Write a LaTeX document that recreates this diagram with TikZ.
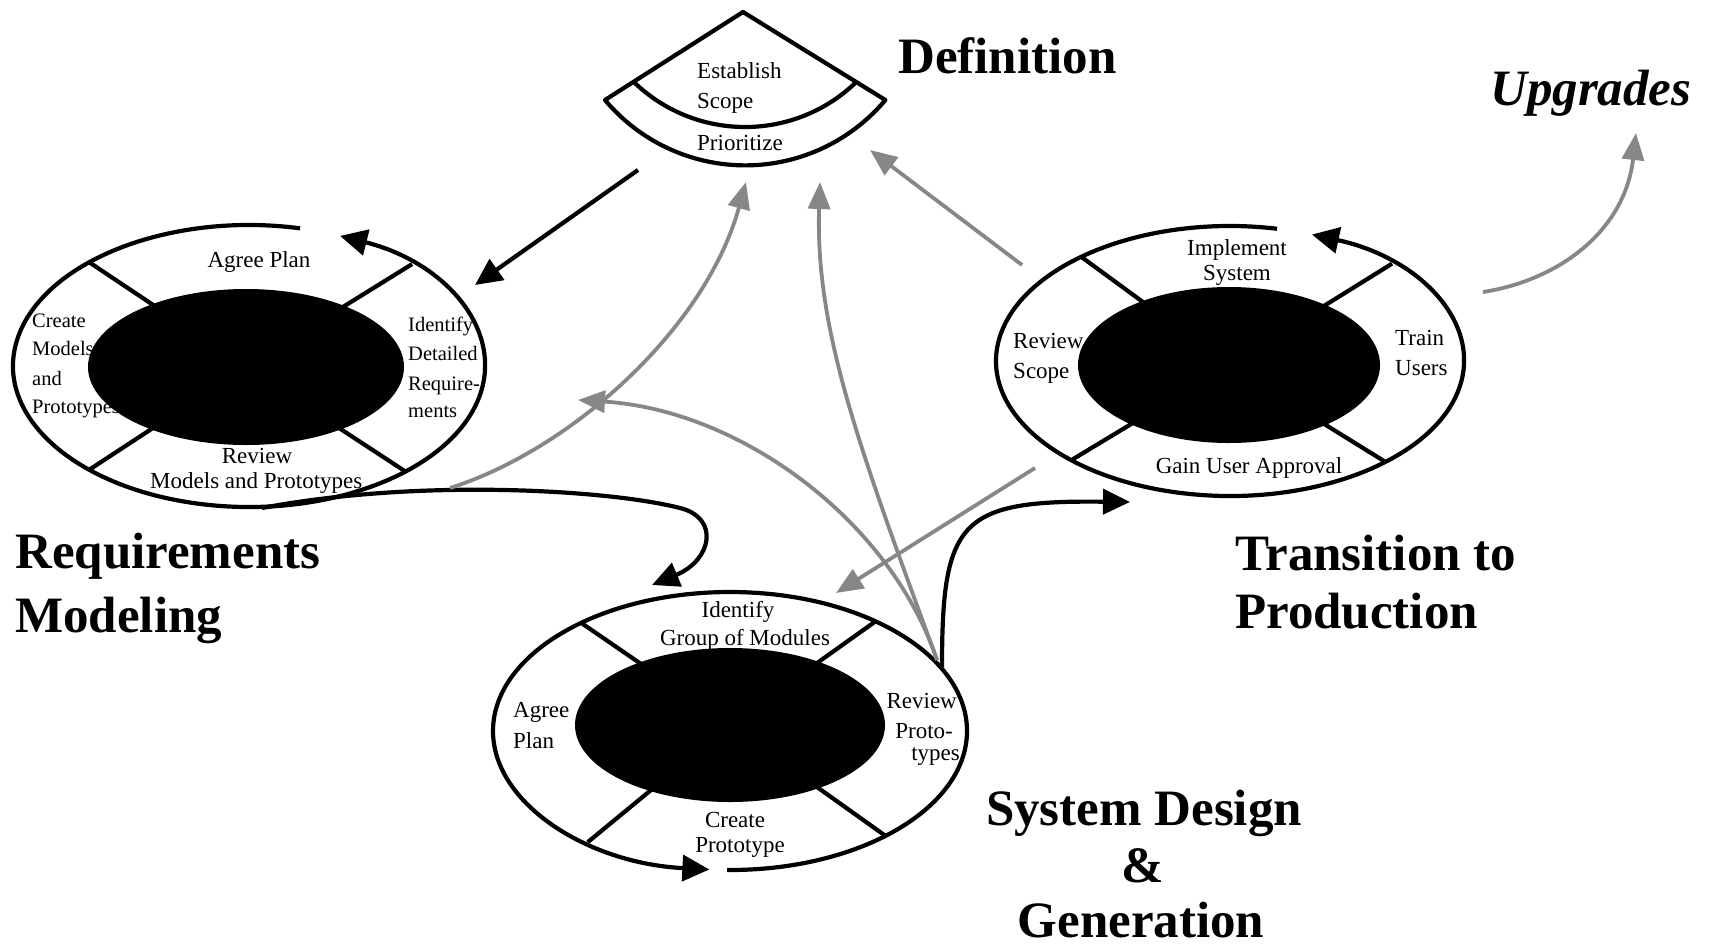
\documentclass[tikz,border=0pt]{standalone}
\usepackage{fontspec}
\setmainfont{Liberation Serif}
\usetikzlibrary{arrows.meta,shapes.geometric}
\definecolor{fbgray}{RGB}{135,135,135}

\begin{document}
\begin{tikzpicture}[x=1pt,y=1pt,
  ring/.style={draw=none, ellipse, inner sep=0pt, outer sep=0pt},
  core/.style={ellipse, fill=black, draw=none, inner sep=0pt, outer sep=0pt},
  outline/.style={line width=4.2pt, line join=round},
  divider/.style={line width=4.2pt},
  cyc/.style={line width=4.2pt, -{Triangle[length=27pt,width=26pt]}},
  flow/.style={line width=4.2pt, -{Triangle[length=27pt,width=25pt]}},
  feedback/.style={line width=3.8pt, draw=fbgray, -{Triangle[length=27pt,width=22pt]}},
  small/.style={font=\fontsize{23}{28}\selectfont, inner sep=0pt},
  tiny/.style={font=\fontsize{20.5}{25}\selectfont, inner sep=0pt},
  title/.style={font=\fontsize{51}{60}\selectfont\bfseries, inner sep=0pt},
]
\useasboundingbox (0,0) rectangle (1713,-945);

% ---------- titles ----------
\node[title, anchor=base west] (deftitle) at (898,-73) {Definition};
\node[title, font=\fontsize{51}{60}\selectfont\bfseries\itshape, anchor=base west] (upgrades) at (1490,-105) {Upgrades};
\node[title, anchor=base west] (rmtitle1) at (15,-568) {Requirements};
\node[title, anchor=base west] (rmtitle2) at (15,-632) {Modeling};
\node[title, anchor=base west] (tptitle1) at (1235,-570) {Transition to};
\node[title, anchor=base west] (tptitle2) at (1235,-628) {Production};
\node[title, anchor=base] (sdtitle1) at (1144,-825) {System Design};
\node[title, anchor=base] (sdtitle2) at (1143,-882) {\&};
\node[title, anchor=base] (sdtitle3) at (1141,-937) {Generation};

% ---------- definition fan ----------
\node[small, anchor=base west] (establish) at (697,-78) {Establish};
\node[small, anchor=base west] (scope) at (697,-108) {Scope};
\node[small, anchor=base west] (prioritize) at (697,-150) {Prioritize};
\draw[outline] (743,-12) -- (605,-100) arc[start angle=220, end angle=320, radius=183] -- cycle;
\draw[outline] (633.9,-82.1) arc[start angle=226, end angle=314, radius=160];

% ---------- requirements modeling cycle ----------
\node[small, anchor=base] (rmagree) at (259,-267) {Agree Plan};
\node[tiny, anchor=base west] (rmcreate1) at (32,-327) {Create};
\node[tiny, anchor=base west] (rmcreate2) at (32,-355) {Models};
\node[tiny, anchor=base west] (rmcreate3) at (32,-385) {and};
\node[tiny, anchor=base west] (rmcreate4) at (32,-413) {Prototypes};
\node[tiny, anchor=base west] (rmident1) at (408,-331) {Identify};
\node[tiny, anchor=base west] (rmident2) at (408,-360) {Detailed};
\node[tiny, anchor=base west] (rmident3) at (408,-390) {Require-};
\node[tiny, anchor=base west] (rmident4) at (408,-417) {ments};
\node[small, anchor=base] (rmreview1) at (257,-463) {Review};
\node[small, anchor=base west] (rmreview2) at (150,-488) {Models and Prototypes};

\node[ring, minimum width=472pt, minimum height=282pt] (reqring) at (249,-366) {};
\foreach \a in {32,147,213,326} \draw[divider] (246,-367) -- (reqring.\a);
\node[core, minimum width=316pt, minimum height=156pt] (reqcore) at (246,-367) {};
\draw[cyc] (reqring.center) ++(77.5:236 and 141)
  arc[start angle=77.5, end angle=427.3, x radius=236, y radius=141];

% ---------- transition to production cycle ----------
\node[small, anchor=base] (tpimpl1) at (1237,-255) {Implement};
\node[small, anchor=base] (tpimpl2) at (1237,-280) {System};
\node[small, anchor=base west] (tpreview1) at (1013,-348) {Review};
\node[small, anchor=base west] (tpreview2) at (1013,-378) {Scope};
\node[small, anchor=base west] (tptrain1) at (1395,-345) {Train};
\node[small, anchor=base west] (tptrain2) at (1395,-375) {Users};
\node[small, anchor=base] (tpgain) at (1249,-473) {Gain User Approval};

\node[ring, minimum width=468pt, minimum height=270pt] (tpring) at (1230,-361) {};
\foreach \a in {31.5,145.5,212,327} \draw[divider] (1229,-365) -- (tpring.\a);
\node[core, minimum width=302pt, minimum height=156pt] (tpcore) at (1229,-365) {};
\draw[cyc] (tpring.center) ++(78.4:234 and 135)
  arc[start angle=78.4, end angle=429.5, x radius=234, y radius=135];

% ---------- system design & generation cycle ----------
\node[small, anchor=base] (sdident1) at (738,-617) {Identify};
\node[small, anchor=base] (sdident2) at (745,-645) {Group of Modules};
\node[small, anchor=base west] (sdagree1) at (513,-717) {Agree};
\node[small, anchor=base west] (sdagree2) at (513,-748) {Plan};
\node[small, anchor=base east] (sdreview1) at (957,-708) {Review};
\node[small, anchor=base east] (sdreview2) at (953,-738) {Proto-};
\node[small, anchor=base east] (sdreview3) at (960,-760) {types};
\node[small, anchor=base] (sdcreate1) at (735,-827) {Create};
\node[small, anchor=base] (sdcreate2) at (740,-852) {Prototype};

\node[ring, minimum width=474pt, minimum height=278pt] (sdring) at (730,-731) {};
\foreach \a in {37.5,144.5,218,326} \draw[divider] (730,-725) -- (sdring.\a);
\node[core, minimum width=310pt, minimum height=154pt] (sdcore) at (730,-725) {};
\draw[cyc] (sdring.center) ++(269.3:237 and 139)
  arc[start angle=269.3, end angle=625, x radius=237, y radius=139];

% ---------- connector end points ----------
\coordinate (defout) at (638,-170);
\coordinate (reqin) at (475,-285);
\coordinate (reqbottom) at (262,-508);
\coordinate (sdtop) at (652,-585);
\coordinate (sdright) at (942,-667);
\coordinate (tpleft) at (1130,-502);
\coordinate (tpupper) at (1022,-265);
\coordinate (defright) at (870,-150);
\coordinate (tplower) at (1035,-468);
\coordinate (sdupper) at (836,-593);
\coordinate (sdcorner) at (937,-660);
\coordinate (defmid) at (820,-182);
\coordinate (midpoint) at (578,-400);
\coordinate (reqcorner) at (450,-488);
\coordinate (defleft) at (746,-182);
\coordinate (tpexit) at (1483,-292);
\coordinate (upgin) at (1636,-133);

% ---------- main flow ----------
\draw[flow] (defout) -- (reqin);
\draw[flow] (reqbottom) .. controls (420,-478) and (610,-490) .. (680,-508)
  .. controls (720,-518) and (712,-560) .. (sdtop);
\draw[flow] (sdright) .. controls (942,-520) and (960,-500) .. (tpleft);

% ---------- feedback ----------
\draw[feedback] (tpupper) -- (defright);
\draw[feedback] (tplower) -- (sdupper);
\draw[feedback] (sdcorner) .. controls (860,-450) and (815,-330) .. (defmid);
\draw[feedback] (sdcorner) .. controls (890,-520) and (740,-410) .. (midpoint);
\draw[feedback] (reqcorner) .. controls (570,-450) and (705,-330) .. (defleft);
\draw[feedback] (tpexit) .. controls (1560,-280) and (1625,-230) .. (upgin);
\end{tikzpicture}
\end{document}
